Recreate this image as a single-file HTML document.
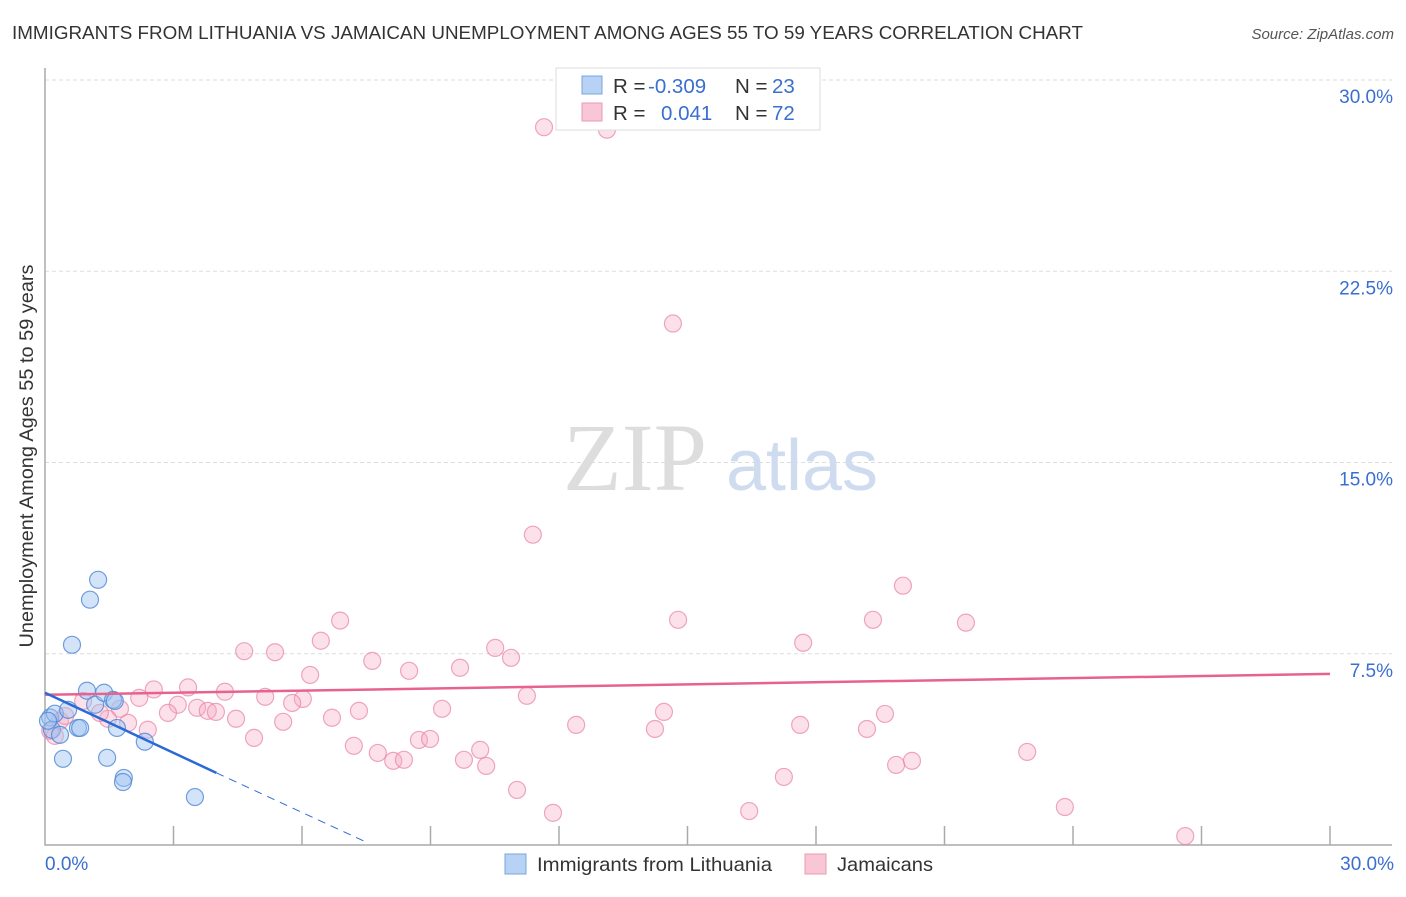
<!DOCTYPE html>
<html><head><meta charset="utf-8"><style>
body{margin:0;background:#fff;font-family:"Liberation Sans",sans-serif}
</style></head><body>
<svg width="1406" height="892" xmlns="http://www.w3.org/2000/svg">
<text x="12" y="39" font-size="18" fill="#333" textLength="1071" lengthAdjust="spacingAndGlyphs">IMMIGRANTS FROM LITHUANIA VS JAMAICAN UNEMPLOYMENT AMONG AGES 55 TO 59 YEARS CORRELATION CHART</text>
<text x="1394" y="39" font-size="15" fill="#555" font-style="italic" text-anchor="end">Source: ZipAtlas.com</text>
<g id="grid"></g>
<text x="635" y="490" font-size="96" fill="#ddd" font-family="Liberation Serif,serif" text-anchor="middle">ZIP</text>
<text x="802" y="490" font-size="72" fill="#cfdcf0" text-anchor="middle">atlas</text>
<g id="marks"></g>
<text x="33" y="456" font-size="19.5" fill="#333" text-anchor="middle" transform="rotate(-90 33 456)" textLength="383" lengthAdjust="spacingAndGlyphs">Unemployment Among Ages 55 to 59 years</text>
<text x="45" y="870" font-size="19" fill="#3a6fd0">0.0%</text>
<text x="1394" y="870" font-size="19" fill="#3a6fd0" text-anchor="end">30.0%</text>
<g>
<rect x="556" y="68" width="264" height="62" fill="#fff" stroke="#ddd"/>
<rect x="582" y="76" width="20" height="18" fill="#b7d2f5" stroke="#7aa5e0"/>
<rect x="582" y="103" width="20" height="18" fill="#f9c6d5" stroke="#eb9ab4"/>
<text x="613" y="93" font-size="20.5" fill="#333">R = <tspan x="648" fill="#3a6fd0">-0.309</tspan><tspan x="735">N = </tspan><tspan x="772" fill="#3a6fd0">23</tspan></text>
<text x="613" y="120" font-size="20.5" fill="#333">R = <tspan x="661" fill="#3a6fd0">0.041</tspan><tspan x="735">N = </tspan><tspan x="772" fill="#3a6fd0">72</tspan></text>
</g>
<g>
<rect x="505" y="854" width="21" height="20" fill="#b7d2f5" stroke="#7aa5e0"/>
<text x="537" y="871" font-size="19.5" fill="#333" textLength="235" lengthAdjust="spacingAndGlyphs">Immigrants from Lithuania</text>
<rect x="805" y="854" width="21" height="20" fill="#f9c6d5" stroke="#eb9ab4"/>
<text x="837" y="871" font-size="19.5" fill="#333" textLength="96" lengthAdjust="spacingAndGlyphs">Jamaicans</text>
</g>
</svg>
<script>
const yTicks=[7.5,15,22.5,30];
const yTickLabels=["7.5%","15.0%","22.5%","30.0%"];
const xTicks=[0,3,6,9,12,15,18,21,24,27,30];
const blueX=[0.12,0.23,0.16,0.35,0.42,0.54,0.77,0.82,0.98,1.05,1.24,0.63,1.17,1.38,1.59,1.63,1.68,1.45,1.84,1.82,2.33,3.5,0.07];
const blueY=[5.0,5.15,4.52,4.32,3.38,5.3,4.59,4.59,6.05,9.62,10.4,7.85,5.5,5.97,5.69,5.65,4.59,3.42,2.63,2.47,4.05,1.88,4.87];
const pinkX=[11.65,13.12,14.66,11.39,20.03,6.89,14.78,19.33,21.5,6.44,17.7,4.65,5.37,10.51,10.88,7.64,9.69,8.5,6.19,2.54,3.34,4.2,11.25,5.14,2.2,6.02,5.77,3.1,2.87,3.55,3.8,3.99,7.33,9.27,14.45,19.61,4.46,6.7,5.56,1.94,2.4,12.4,17.63,19.19,14.24,4.88,8.73,8.99,7.21,7.77,10.16,8.13,8.38,9.78,10.3,20.24,19.87,22.93,17.25,11.02,11.86,16.44,23.81,26.62,1.75,1.47,1.28,0.89,0.35,0.12,0.23,0.47];
const pinkY=[28.15,28.05,20.45,12.17,10.17,8.8,8.83,8.83,8.72,8.01,7.93,7.6,7.56,7.73,7.34,7.22,6.95,6.83,6.67,6.1,6.18,6.01,5.85,5.81,5.77,5.73,5.57,5.5,5.18,5.38,5.26,5.22,5.26,5.34,5.22,5.14,4.95,4.99,4.83,4.79,4.52,4.71,4.71,4.55,4.55,4.2,4.12,4.16,3.89,3.61,3.73,3.3,3.34,3.34,3.1,3.3,3.14,3.65,2.67,2.16,1.26,1.33,1.49,0.35,5.34,4.95,5.18,5.65,4.87,4.48,4.28,5.06];
const blueLine=[[0,5.97],[4.0,2.83]];
const blueDash=[[4.0,2.83],[7.54,0.08]];
const pinkLine=[[0,5.89],[30,6.71]];
const X0=45,X1=1330,Y0=845,Y1=80;
const sx=v=>X0+(X1-X0)*v/30, sy=v=>Y0-(Y0-Y1)*v/30;
const NS="http://www.w3.org/2000/svg";
function mk(t,a,p){const e=document.createElementNS(NS,t);for(const k in a)e.setAttribute(k,a[k]);p.appendChild(e);return e;}
const grid=document.getElementById('grid'),marks=document.getElementById('marks');
yTicks.forEach((v,i)=>{
 const l=mk('line',{x1:X0,x2:1392,y1:sy(v),y2:sy(v),stroke:'#ddd','stroke-dasharray':'4 3'},grid);
 
 
 const t=mk('text',{x:1393,y:sy(v)+23,'font-size':19,fill:'#3a6fd0','text-anchor':'end'},grid);
 t.textContent=yTickLabels[i];
 
 
});
const ax=mk('path',{d:`M${X0} 68 V${Y0} H1392`,stroke:'#aaa',fill:'none','stroke-width':1.5},grid);


xTicks.forEach(v=>{if(v===0)return;
 const l=mk('line',{x1:sx(v),x2:sx(v),y1:Y0,y2:Y0-19,stroke:'#aaa','stroke-width':1.5},grid);
 
 
});
pinkX.forEach((x,i)=>{
 const c=mk('circle',{cx:sx(x),cy:sy(pinkY[i]),r:8.5,fill:'rgba(246,170,195,0.35)',stroke:'rgba(232,130,165,0.7)','stroke-width':1.2},marks);
 
 
});
blueX.forEach((x,i)=>{
 const c=mk('circle',{cx:sx(x),cy:sy(blueY[i]),r:8.5,fill:'rgba(160,195,240,0.45)',stroke:'rgba(80,135,215,0.8)','stroke-width':1.2},marks);
 
 
});
let l=mk('line',{x1:sx(pinkLine[0][0]),y1:sy(pinkLine[0][1]),x2:sx(pinkLine[1][0]),y2:sy(pinkLine[1][1]),stroke:'#e8628f','stroke-width':2.5},marks);


l=mk('line',{x1:sx(blueLine[0][0]),y1:sy(blueLine[0][1]),x2:sx(blueLine[1][0]),y2:sy(blueLine[1][1]),stroke:'#2a6ad6','stroke-width':2.5},marks);


l=mk('line',{x1:sx(blueDash[0][0]),y1:sy(blueDash[0][1]),x2:sx(blueDash[1][0]),y2:sy(blueDash[1][1]),stroke:'#2a6ad6','stroke-width':1,'stroke-dasharray':'8 6'},marks);


</script>
</body></html>
